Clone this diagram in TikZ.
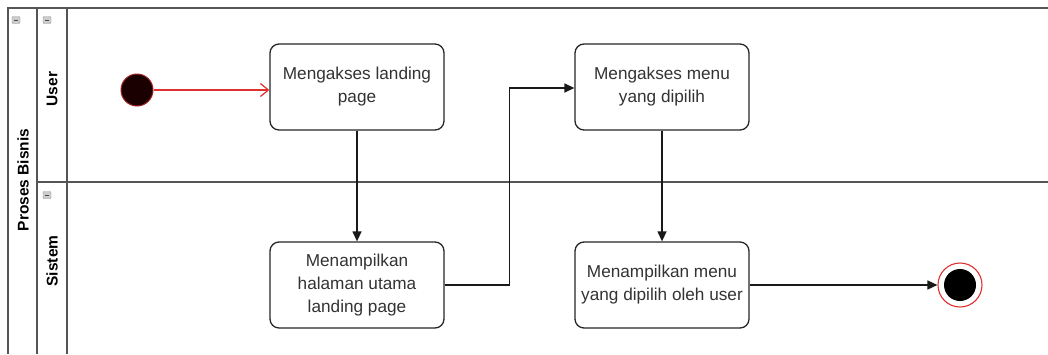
\documentclass[tikz,border=0pt]{standalone}
\usepackage{fontspec}
\setmainfont{Liberation Sans}
\usetikzlibrary{arrows.meta}
\definecolor{frame}{HTML}{555555}
\definecolor{startred}{HTML}{E03030}
\definecolor{startfill}{HTML}{1A0000}
\tikzset{
  act/.style={draw=black!85, line width=1.3pt, rounded corners=9pt, minimum width=174pt, minimum height=86pt, align=center, font=\fontsize{17.2}{23}\selectfont, text=black!80},
  flow/.style={draw=black!90, line width=1.3pt, -{Triangle[length=10pt,width=9pt]}},
  lanelbl/.style={rotate=90, font=\fontsize{15.5}{18}\selectfont\bfseries},
  icon/.style={draw=black!40, fill=black!20, minimum width=8pt, minimum height=7pt, inner sep=0pt, rounded corners=1pt, path picture={\draw[black!70, line width=1pt] ([xshift=2pt]path picture bounding box.west) -- ([xshift=-2pt]path picture bounding box.east);}},
}
\begin{document}
\begin{tikzpicture}[x=1pt,y=-1pt]
\useasboundingbox (0,0) rectangle (1048,354);
\fill[white] (0,0) rectangle (1048,354);
% pool and lanes
\draw[frame, line width=1.3pt] (1048,8) -- (8,8) -- (8,354);
\draw[frame, line width=1.3pt] (37,8) -- (37,354);
\draw[frame, line width=1.3pt] (67,8) -- (67,354);
\draw[frame, line width=1.6pt] (37,182) -- (1048,182);
\node[icon] (i1) at (16,20) {};
\node[icon] (i2) at (47,20) {};
\node[icon] (i3) at (47,195) {};
\node[lanelbl] (pool) at (23,180) {Proses Bisnis};
\node[lanelbl] (lu) at (52,89) {User};
\node[lanelbl] (ls) at (52,261) {Sistem};
% nodes
\node[circle, fill=startfill, draw=startred!70!black, line width=1pt, minimum size=32pt, inner sep=0pt] (start) at (137,90) {};
\node[act] (a1) at (357,87) {Mengakses landing\\page};
\node[act] (a2) at (357,285) {Menampilkan\\halaman utama\\landing page};
\node[act] (a3) at (662,87) {Mengakses menu\\yang dipilih};
\node[act] (a4) at (662,285) {Menampilkan menu\\yang dipilih oleh user};
\node[circle, draw=startred, line width=1.1pt, fill=white, minimum size=44pt, inner sep=0pt] (end) at (960,285) {};
\node[circle, fill=black, minimum size=32pt, inner sep=0pt] (endin) at (end.center) {};
% connectors
\draw[startred, line width=1.2pt, -{Straight Barb[length=8pt,width=13pt]}] (start) -- (start -| a1.west);
\draw[flow] (a1) -- (a2);
\draw[flow] (a2.east) -- ++(65,0) |- ([yshift=-1pt]a3.west);
\draw[flow] (a3) -- (a4);
\draw[flow] (a4) -- (end);
\end{tikzpicture}
\end{document}
